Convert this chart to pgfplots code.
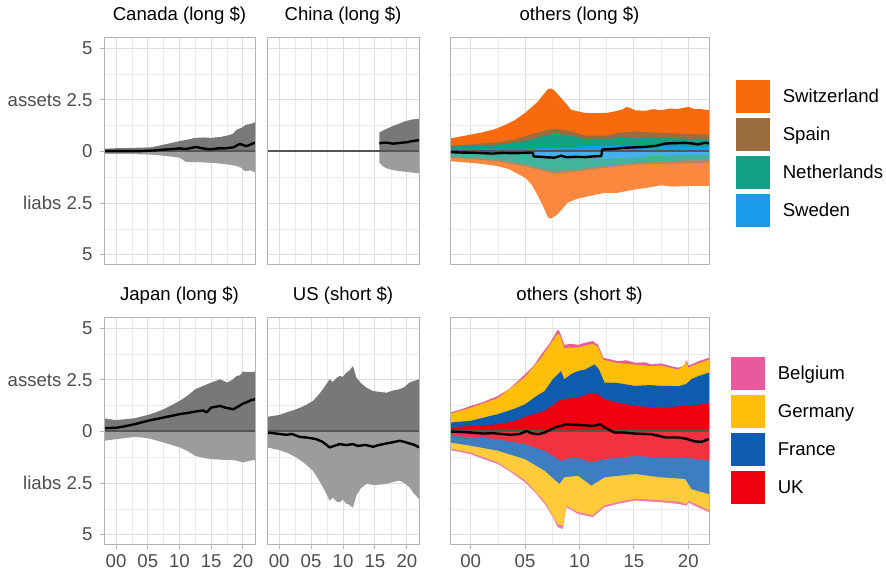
\documentclass[border=0pt]{standalone}
\usepackage{pgfplots}
\pgfplotsset{compat=1.18}
\usepackage{fontspec}
\setmainfont{Liberation Sans}

\definecolor{swiss}{HTML}{F96A0E}\definecolor{swissL}{HTML}{FA883E}
\definecolor{spain}{HTML}{9B6C3E}\definecolor{spainL}{HTML}{AF8965}
\definecolor{neth}{HTML}{14A085}\definecolor{nethL}{HTML}{43B39D}
\definecolor{swed}{HTML}{189BE8}\definecolor{swedL}{HTML}{46AFED}
\definecolor{belg}{HTML}{E85A9B}\definecolor{belgL}{HTML}{ED7BAF}
\definecolor{germ}{HTML}{FFBE0A}\definecolor{germL}{HTML}{FFCB3B}
\definecolor{fran}{HTML}{0E5CB0}\definecolor{franL}{HTML}{3E7DC0}
\definecolor{ukc}{HTML}{EE0011}\definecolor{ukcL}{HTML}{F13341}
\definecolor{gup}{HTML}{787878}\definecolor{glo}{HTML}{9C9C9C}
\definecolor{zeroc}{HTML}{555555}
\definecolor{grey70}{HTML}{B3B3B3}\definecolor{grey87}{HTML}{DEDEDE}
\definecolor{grey92}{HTML}{EBEBEB}\definecolor{grey30}{HTML}{4D4D4D}

\newcommand{\fs}{\fontsize{18.6}{22}\selectfont}

\pgfplotsset{
  panel/.style={
    scale only axis, height=227pt,
    xmin=1998.1, xmax=2021.9, ymin=-5.5, ymax=5.5,
    xtick={2000,2005,2010,2015,2020}, minor x tick num=1,
    ytick={-5,-2.5,0,2.5,5}, minor y tick num=1,
    grid=both,
    major grid style={color=grey87, line width=1pt},
    minor grid style={color=grey92, line width=0.6pt},
    axis line style={color=grey70, line width=1pt},
    tick style={color=grey70, line width=1pt},
    tick align=outside, major tick length=4pt, minor tick length=0pt,
    xtick pos=bottom, ytick pos=left,
    xticklabels={}, yticklabels={},
    xtick style={draw=none}, ytick style={draw=none},
    title style={font=\fs, anchor=base, at={(0.5,1)}, yshift=11pt},
    tick label style={font=\fs, color=grey30},
    xticklabel style={yshift=-2pt},
    yticklabel style={xshift=-4pt},
    clip=false,
  },
  leftcol/.style={ytick style={draw=grey70}, yticklabels={5,liabs 2.5,0,assets 2.5,5}},
  bottomrow/.style={xtick style={draw=grey70}, xticklabels={00,05,10,15,20}},
  legbox/.style={
    legend image code/.code={\draw[##1, draw=white, line width=0.6pt] (0pt,-17pt) rectangle (35pt,17pt);},
    legend style={draw=none, fill=none, inner sep=0pt, font=\fs, row sep=3.4pt,
      cells={anchor=west},
      /tikz/every odd column/.append style={column sep=10pt}},
  },
  net/.style={forget plot, black, line width=2.4pt, line join=round},
  zline/.style={forget plot, zeroc, line width=2pt},
}
\newcommand{\frameit}{\draw[grey70, line width=1pt] (rel axis cs:0,0) rectangle (rel axis cs:1,1);}

\begin{document}
\begin{tikzpicture}[x=1pt,y=1pt]
\useasboundingbox (0,0) rectangle (886,572);

% ---------- Canada ----------
\begin{axis}[panel, leftcol, width=151pt, at={(104pt,307pt)}, anchor=south west, title={Canada (long \$)}]
\addplot[fill=gup, draw=none] coordinates {(1998.1,0.13) (2000,0.16) (2002,0.17) (2004,0.19) (2005.5,0.2) (2007,0.3) (2008.5,0.4) (2010,0.5) (2011.3,0.58) (2012.5,0.66) (2013.8,0.68) (2015,0.66) (2016.3,0.7) (2017.5,0.77) (2018.4,0.85) (2019,1.06) (2019.8,1.15) (2020.5,1.3) (2021.2,1.33) (2021.9,1.42)} \closedcycle;
\addplot[fill=glo, draw=none] coordinates {(1998.1,-0.11) (2002,-0.12) (2005.5,-0.15) (2008,-0.22) (2010,-0.3) (2011,-0.5) (2013,-0.52) (2015,-0.55) (2017,-0.6) (2019,-0.7) (2019.8,-0.8) (2020.3,-0.95) (2021.2,-0.92) (2021.9,-1.0)} \closedcycle;
\addplot[zline] coordinates {(1998.1,0) (2021.9,0)};
\addplot[net] coordinates {(1998.1,0.02) (2001,0.02) (2004,0.02) (2006,0.05) (2007,0.08) (2008,0.1) (2009,0.12) (2010,0.15) (2011,0.12) (2012,0.18) (2012.6,0.22) (2013.5,0.16) (2014.8,0.1) (2016,0.15) (2017,0.15) (2018.5,0.2) (2019.5,0.37) (2020.5,0.26) (2021.1,0.32) (2021.6,0.4) (2021.9,0.42)};
\frameit
\end{axis}

% ---------- China ----------
\begin{axis}[panel, width=152pt, at={(267pt,307pt)}, anchor=south west, title={China (long \$)}]
\addplot[fill=gup, draw=none] coordinates {(2015.7,0.93) (2016.5,1.05) (2017.7,1.22) (2018.8,1.35) (2019.8,1.47) (2020.8,1.55) (2021.9,1.58)} \closedcycle;
\addplot[fill=glo, draw=none] coordinates {(2015.7,-0.55) (2016.2,-0.7) (2016.7,-0.8) (2017.8,-0.9) (2018.8,-0.95) (2020.3,-1.0) (2021.9,-1.06)} \closedcycle;
\addplot[zline] coordinates {(1998.1,0) (2021.9,0)};
\addplot[net] coordinates {(2015.7,0.39) (2016.3,0.43) (2017,0.42) (2017.8,0.38) (2018.5,0.4) (2019.3,0.43) (2020,0.45) (2020.8,0.5) (2021.9,0.55)};
\frameit
\end{axis}

% ---------- others (long $) ----------
\begin{axis}[panel, legbox, width=259pt, at={(450pt,307pt)}, anchor=south west, title={others (long \$)},
  legend style={at={(1.1004,0.8194)}, anchor=north west}]
\addplot[fill=swiss, draw=none] coordinates {(1998.1,0.63) (1999,0.72) (2000,0.82) (2001,0.92) (2002,1.05) (2002.5,1.14) (2003,1.25) (2004,1.5) (2005,1.87) (2005.5,2.1) (2006.2,2.43) (2006.6,2.7) (2007.1,3.03) (2007.4,3.05) (2007.7,2.95) (2008.3,2.6) (2008.8,2.3) (2009.2,2.03) (2009.8,1.95) (2010.5,1.87) (2011.5,1.86) (2012.5,1.87) (2013.3,1.95) (2014,2.05) (2014.3,2.16) (2014.7,2.1) (2015.1,2.0) (2016,1.97) (2016.8,2.05) (2017.5,2.0) (2018.3,2.08) (2019,2.06) (2020,2.16) (2020.6,2.05) (2021.2,2.05) (2021.9,2.0)} \closedcycle;
\addlegendentry{Switzerland}
\addplot[forget plot, fill=swissL, draw=none] coordinates {(1998.1,-0.47) (2000,-0.55) (2001,-0.6) (2002.5,-0.71) (2003.5,-0.85) (2005,-1.27) (2005.6,-1.6) (2006.2,-2.16) (2006.7,-2.7) (2007.1,-3.2) (2007.4,-3.25) (2008,-3.04) (2008.9,-2.48) (2009.8,-2.29) (2011,-2.15) (2012.3,-2.0) (2013.5,-2.0) (2015.1,-1.84) (2016.3,-1.75) (2017.5,-1.64) (2018.5,-1.7) (2020,-1.67) (2021.9,-1.67)} \closedcycle;
\addplot[fill=spain, draw=none] coordinates {(1998.1,0.29) (2000,0.34) (2002.5,0.45) (2004,0.58) (2005,0.74) (2006,0.9) (2006.8,1.01) (2007.7,1.1) (2008.5,1.05) (2009.2,1.0) (2009.8,0.88) (2010.5,0.77) (2012.5,0.77) (2013.5,0.9) (2015.1,0.98) (2016.5,0.93) (2017.5,0.9) (2020,0.85) (2021.9,0.82)} \closedcycle;
\addlegendentry{Spain}
\addplot[forget plot, fill=spainL, draw=none] coordinates {(1998.1,-0.31) (2000,-0.36) (2002.5,-0.48) (2005,-0.71) (2006.5,-0.92) (2007.7,-1.08) (2008.5,-1.05) (2009.8,-0.95) (2012.3,-0.79) (2015.1,-0.63) (2017.5,-0.6) (2021.9,-0.55)} \closedcycle;
\addplot[fill=neth, draw=none] coordinates {(1998.1,0.23) (2000,0.27) (2002.5,0.34) (2005,0.5) (2006.8,0.77) (2007.7,0.87) (2009.2,0.77) (2010.5,0.61) (2012.5,0.61) (2015.1,0.71) (2017.5,0.66) (2020,0.61) (2021.9,0.58)} \closedcycle;
\addlegendentry{Netherlands}
\addplot[forget plot, fill=nethL, draw=none] coordinates {(1998.1,-0.26) (2000,-0.3) (2002.5,-0.39) (2005,-0.63) (2006.8,-0.87) (2007.7,-0.95) (2009.8,-0.87) (2012.3,-0.7) (2015.1,-0.55) (2017.5,-0.47) (2021.9,-0.39)} \closedcycle;
\addplot[fill=swed, draw=none] coordinates {(1998.1,0.1) (2005,0.1) (2006.8,0.18) (2009.8,0.23) (2012.5,0.29) (2015.1,0.29) (2017.5,0.26) (2021.9,0.23)} \closedcycle;
\addlegendentry{Sweden}
\addplot[forget plot, fill=swedL, draw=none] coordinates {(1998.1,-0.08) (2005,-0.1) (2006,-0.25) (2007,-0.3) (2012,-0.3) (2012.3,-0.35) (2015.1,-0.3) (2016.6,-0.22) (2021.9,-0.15)} \closedcycle;
\addplot[zline] coordinates {(1998.1,0) (2021.9,0)};
\addplot[net] coordinates {(1998.1,-0.03) (1999,-0.05) (2000,-0.06) (2001,-0.08) (2002,-0.1) (2003,-0.07) (2004,-0.08) (2005,-0.07) (2005.7,-0.06) (2005.8,-0.24) (2006.5,-0.26) (2007,-0.28) (2007.7,-0.3) (2008.3,-0.2) (2008.8,-0.28) (2009.5,-0.26) (2010.5,-0.27) (2011.5,-0.23) (2012,-0.22) (2012.1,0.1) (2013,0.12) (2014.2,0.18) (2015,0.2) (2016,0.22) (2017.2,0.29) (2017.8,0.38) (2018.5,0.4) (2019.7,0.42) (2020.5,0.38) (2020.9,0.34) (2021.5,0.42) (2021.9,0.4)};
\frameit
\end{axis}

% ---------- Japan ----------
\begin{axis}[panel, leftcol, bottomrow, width=151pt, at={(104pt,27pt)}, anchor=south west, title={Japan (long \$)}]
\addplot[fill=gup, draw=none] coordinates {(1998.1,0.64) (2000,0.55) (2001.5,0.6) (2002.9,0.64) (2005,0.8) (2006.3,0.93) (2007.5,1.08) (2008.8,1.28) (2010,1.48) (2011.2,1.72) (2012.5,2.05) (2013.8,2.22) (2015,2.37) (2016.4,2.53) (2017.5,2.37) (2018.3,2.5) (2019,2.69) (2019.5,2.72) (2020,2.9) (2020.8,2.88) (2021.9,2.9)} \closedcycle;
\addplot[fill=glo, draw=none] coordinates {(1998.1,-0.45) (2000,-0.37) (2002.9,-0.26) (2005,-0.32) (2007.5,-0.53) (2010,-0.77) (2011.3,-0.95) (2012.5,-1.18) (2013.8,-1.28) (2015,-1.34) (2017.5,-1.38) (2018.8,-1.4) (2020,-1.5) (2021.6,-1.38) (2021.9,-1.4)} \closedcycle;
\addplot[zline] coordinates {(1998.1,0) (2021.9,0)};
\addplot[net] coordinates {(1998.1,0.16) (2000,0.18) (2001,0.23) (2002.9,0.35) (2005,0.52) (2006.3,0.6) (2007.5,0.68) (2008.8,0.76) (2010,0.84) (2011.3,0.9) (2012.5,0.97) (2013.7,1.02) (2014.3,0.93) (2015,1.16) (2016.4,1.24) (2017.3,1.15) (2018.5,1.08) (2019.3,1.22) (2020,1.35) (2020.6,1.42) (2021.3,1.52) (2021.9,1.56)};
\frameit
\end{axis}

% ---------- US ----------
\begin{axis}[panel, bottomrow, width=152pt, at={(267pt,27pt)}, anchor=south west, title={US (short \$)}]
\addplot[fill=gup, draw=none] coordinates {(1998.1,0.71) (2000,0.8) (2001.4,0.95) (2002.7,1.08) (2004,1.25) (2005.3,1.48) (2006.5,1.9) (2007.2,2.2) (2007.9,2.53) (2008.4,2.4) (2009,2.6) (2009.5,2.69) (2010,2.65) (2010.5,2.85) (2011,2.95) (2011.55,3.17) (2012.1,2.6) (2012.8,2.35) (2013.65,2.13) (2014.7,1.96) (2015.7,1.92) (2016.8,1.88) (2017.8,1.98) (2018.85,2.05) (2019.6,2.15) (2020.4,2.37) (2021.1,2.45) (2021.9,2.53)} \closedcycle;
\addplot[fill=glo, draw=none] coordinates {(1998.1,-0.77) (2000,-0.9) (2001.4,-1.05) (2002.7,-1.26) (2004,-1.55) (2005.3,-1.9) (2006.5,-2.5) (2007.2,-2.9) (2007.9,-3.35) (2008.4,-3.2) (2009,-3.4) (2009.5,-3.43) (2010,-3.3) (2010.5,-3.5) (2011,-3.55) (2011.55,-3.7) (2012.1,-3.1) (2012.8,-2.75) (2013.65,-2.54) (2015,-2.6) (2016.8,-2.54) (2017.8,-2.45) (2018.85,-2.38) (2019.6,-2.5) (2020.4,-2.7) (2021.1,-3.0) (2021.9,-3.27)} \closedcycle;
\addplot[zline] coordinates {(1998.1,0) (2021.9,0)};
\addplot[net] coordinates {(1998.1,-0.05) (1999.5,-0.1) (2001.15,-0.16) (2002,-0.12) (2003.2,-0.26) (2004.5,-0.3) (2005.8,-0.37) (2006.8,-0.5) (2007.9,-0.77) (2008.6,-0.7) (2009.5,-0.61) (2010.5,-0.66) (2011.55,-0.61) (2012.3,-0.7) (2013.5,-0.65) (2014.7,-0.74) (2015.7,-0.65) (2016.8,-0.58) (2017.8,-0.52) (2018.85,-0.45) (2019.6,-0.5) (2020.4,-0.58) (2021.2,-0.65) (2021.9,-0.77)};
\frameit
\end{axis}

% ---------- others (short $) ----------
\begin{axis}[panel, bottomrow, legbox, width=259pt, at={(450pt,27pt)}, anchor=south west, title={others (short \$)},
  legend style={at={(1.081,0.8326)}, anchor=north west}]
\addplot[fill=belg, draw=none] coordinates {(1998.1,0.92) (1999,1.05) (2000,1.24) (2001,1.4) (2002.5,1.72) (2003.5,2.05) (2005,2.77) (2005.8,3.2) (2006.5,3.74) (2007.3,4.3) (2008,4.94) (2008.2,4.8) (2008.6,4.2) (2009.2,4.25) (2009.9,4.2) (2010.5,4.3) (2011.2,4.38) (2011.7,4.2) (2012.2,3.57) (2012.8,3.5) (2013.5,3.41) (2014.3,3.45) (2015.1,3.33) (2016,3.35) (2016.6,3.25) (2017.5,3.3) (2018.5,3.15) (2019.1,3.09) (2019.6,3.2) (2019.85,3.45) (2020,3.2) (2020.3,3.25) (2021,3.42) (2021.9,3.57)} \closedcycle;
\addlegendentry{Belgium}
\addplot[forget plot, fill=belgL, draw=none] coordinates {(1998.1,-0.9) (2000,-1.1) (2001,-1.3) (2002.5,-1.58) (2003.5,-1.9) (2005,-2.46) (2006,-3.0) (2006.8,-3.51) (2007.5,-4.1) (2008,-4.64) (2008.45,-4.72) (2008.8,-3.67) (2009.85,-3.99) (2011.2,-4.15) (2012.3,-3.67) (2013.5,-3.51) (2015.1,-3.35) (2017.5,-3.43) (2019.1,-3.51) (2019.85,-3.6) (2020,-3.45) (2021,-3.7) (2021.9,-3.91)} \closedcycle;
\addplot[fill=germ, draw=none] coordinates {(1998.1,0.85) (2000,1.15) (2002.5,1.62) (2005,2.65) (2006.5,3.6) (2008,4.75) (2008.2,4.65) (2008.6,4.05) (2009.9,4.08) (2011.2,4.25) (2011.7,4.1) (2012.2,3.47) (2013.5,3.32) (2015.1,3.24) (2016.6,3.17) (2017.5,3.2) (2019.1,3.0) (2019.85,3.35) (2020,3.1) (2021,3.32) (2021.9,3.48)} \closedcycle;
\addlegendentry{Germany}
\addplot[forget plot, fill=germL, draw=none] coordinates {(1998.1,-0.83) (2000,-1.02) (2002.5,-1.5) (2005,-2.36) (2006.8,-3.4) (2008,-4.5) (2008.45,-4.55) (2008.8,-3.6) (2009.85,-3.9) (2011.2,-4.05) (2012.3,-3.58) (2013.5,-3.42) (2015.1,-3.25) (2017.5,-3.33) (2019.1,-3.4) (2019.85,-3.52) (2020,-3.35) (2021.9,-3.82)} \closedcycle;
\addplot[fill=fran, draw=none] coordinates {(1998.1,0.43) (2000,0.52) (2001,0.65) (2002.5,0.84) (2004,1.1) (2005,1.32) (2006,1.7) (2006.8,1.96) (2007.5,2.5) (2008.3,2.93) (2008.6,2.53) (2009.3,2.8) (2009.85,2.93) (2010.5,3.0) (2011.4,3.25) (2011.8,3.0) (2012.3,2.37) (2013.5,2.35) (2015.1,2.21) (2016.5,2.25) (2017.5,2.21) (2019.1,2.2) (2019.8,2.3) (2020.3,2.55) (2021,2.7) (2021.9,2.85)} \closedcycle;
\addlegendentry{France}
\addplot[forget plot, fill=franL, draw=none] coordinates {(1998.1,-0.53) (2000,-0.69) (2002.5,-0.93) (2005,-1.34) (2006.8,-1.9) (2008.15,-2.54) (2008.6,-2.22) (2009.85,-2.14) (2011.1,-2.62) (2012.3,-2.22) (2015.1,-2.06) (2017.5,-2.22) (2019.7,-2.3) (2020.3,-2.79) (2021,-2.9) (2021.9,-3.03)} \closedcycle;
\addplot[fill=ukc, draw=none] coordinates {(1998.1,0.19) (2000,0.27) (2002.5,0.35) (2004,0.5) (2005,0.71) (2006.8,1.0) (2008.3,1.56) (2009.85,1.64) (2011.1,1.88) (2011.7,1.8) (2012.3,1.56) (2013.5,1.4) (2015.1,1.24) (2017.5,1.16) (2019.7,1.24) (2021.9,1.35)} \closedcycle;
\addlegendentry{UK}
\addplot[forget plot, fill=ukcL, draw=none] coordinates {(1998.1,-0.21) (2000,-0.26) (2002.5,-0.37) (2005,-0.61) (2006.8,-0.93) (2008.3,-1.42) (2009,-1.3) (2009.85,-1.26) (2011.1,-1.5) (2012.3,-1.34) (2015.1,-1.18) (2017.5,-1.26) (2019.7,-1.26) (2021.9,-1.42)} \closedcycle;
\addplot[zline] coordinates {(1998.1,0) (2021.9,0)};
\addplot[net] coordinates {(1998.1,0.0) (1999,-0.02) (2000,-0.05) (2001.2,-0.1) (2002,-0.08) (2003.7,-0.16) (2004.5,-0.12) (2005.2,0.03) (2005.5,-0.08) (2006.2,-0.13) (2006.8,-0.05) (2007.7,0.19) (2008.8,0.35) (2009.5,0.33) (2010.5,0.3) (2011.2,0.27) (2011.9,0.35) (2012.3,0.2) (2013.2,-0.05) (2014,-0.05) (2015.1,-0.1) (2016.6,-0.13) (2017.2,-0.2) (2017.9,-0.29) (2019.1,-0.29) (2019.8,-0.35) (2020.6,-0.48) (2021.2,-0.5) (2021.9,-0.37)};
\frameit
\end{axis}
\end{tikzpicture}
\end{document}
